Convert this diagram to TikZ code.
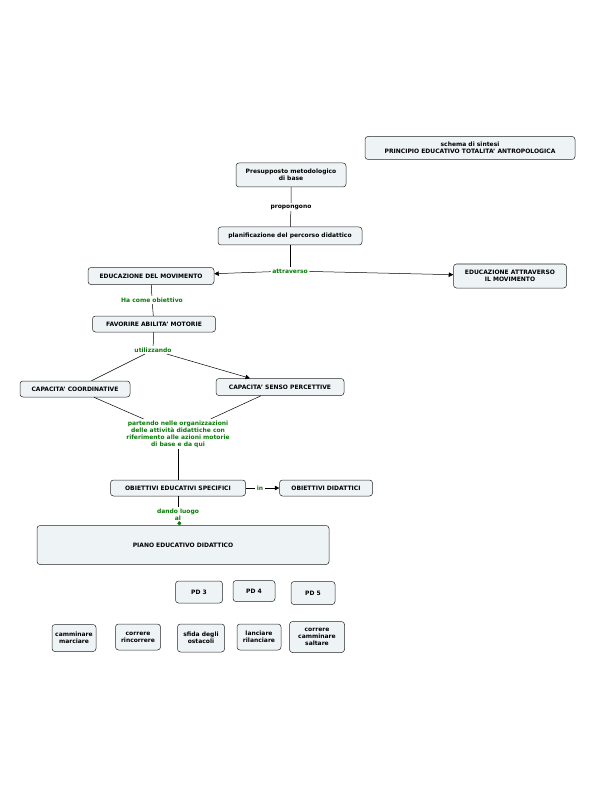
\documentclass[tikz,border=0pt]{standalone}
\usepackage{fontspec}
\setmainfont{DejaVu Sans}
\usetikzlibrary{arrows.meta}
\definecolor{boxfill}{HTML}{EEF3F5}
\definecolor{linkgreen}{HTML}{0A7A0A}
\begin{document}
\begin{tikzpicture}[x=1pt,y=-1pt,
    concept/.style={draw=black!85, fill=boxfill, rounded corners=3pt, line width=0.5pt,
      font=\fontsize{6}{7}\selectfont\bfseries, align=center,
      inner xsep=2pt, inner ysep=3pt, minimum height=17pt},
    linkword/.style={text=linkgreen, font=\fontsize{6}{7}\selectfont\bfseries,
      align=center, inner sep=1.5pt},
    link/.style={draw=black, line width=0.5pt},
    tip/.style={-{Triangle[length=4.5pt,width=4.5pt]}}]
  \useasboundingbox (0,0) rectangle (595,791);

  \node[concept, minimum width=210pt, minimum height=23pt] (sintesi) at (470,148){schema di sintesi\\PRINCIPIO EDUCATIVO TOTALITA' ANTROPOLOGICA};
  \node[concept, minimum width=110pt, minimum height=24pt] (presup) at (291,175){Presupposto metodologico\\di base};
  \node[linkword, text=black] (propon) at (291,207){propongono};
  \node[concept, minimum width=144pt, minimum height=18pt] (planif) at (290,236){planificazione del percorso didattico};
  \node[linkword] (attrav) at (290,271){attraverso};
  \node[concept, minimum width=126pt] (edumov) at (151,276){EDUCAZIONE DEL MOVIMENTO};
  \node[concept, minimum width=113pt, minimum height=24pt] (eduattr) at (510,276){EDUCAZIONE ATTRAVERSO\\IL MOVIMENTO};
  \node[linkword] (obiett) at (152,300){Ha come obiettivo};
  \node[concept, minimum width=123pt, minimum height=16pt] (favor) at (154,324){FAVORIRE ABILITA' MOTORIE};
  \node[linkword] (utiliz) at (153,350){utilizzando};
  \node[concept, minimum width=110pt, minimum height=16pt] (coord) at (75,389){CAPACITA' COORDINATIVE};
  \node[concept, minimum width=128pt] (senso) at (280,387){CAPACITA' SENSO PERCETTIVE};
  \node[linkword] (parten) at (178,434){partendo nelle organizzazioni\\delle attività didattiche con\\riferimento alle azioni motorie\\di base e da qui};
  \node[concept, minimum width=135pt, minimum height=16pt] (spec) at (178,488){OBIETTIVI EDUCATIVI SPECIFICI};
  \node[linkword] (in) at (260,488){in};
  \node[concept, minimum width=93pt, minimum height=16pt] (didat) at (326,488){OBIETTIVI DIDATTICI};
  \node[linkword] (dando) at (178,515){dando luogo\\al};
  \node[concept, minimum width=292pt, minimum height=39pt] (piano) at (183,545){PIANO EDUCATIVO DIDATTICO};

  \node[concept, minimum width=47pt, minimum height=22pt] (pdtre) at (199,592){PD 3};
  \node[concept, minimum width=42pt, minimum height=21pt] (pdquattro) at (254,591){PD 4};
  \node[concept, minimum width=44pt, minimum height=23pt] (pdcinque) at (313,593){PD 5};

  \node[concept, minimum width=44pt, minimum height=27pt] (cammin) at (74,638){camminare\\marciare};
  \node[concept, minimum width=45pt, minimum height=26pt] (correre) at (138,637){correre\\rincorrere};
  \node[concept, minimum width=47pt, minimum height=28pt] (sfida) at (201,638){sfida degli\\ostacoli};
  \node[concept, minimum width=44pt, minimum height=26pt] (lanci) at (259,637){lanciare\\rilanciare};
  \node[concept, minimum width=55pt, minimum height=31pt] (corsalto) at (317,637){correre\\camminare\\saltare};

  \draw[link] (presup) -- (propon) -- (planif);
  \draw[link] (planif) -- (attrav);
  \draw[link, tip] (attrav) -- (edumov);
  \draw[link, tip] (attrav) -- (eduattr);
  \draw[link] (edumov) -- (obiett) -- (favor);
  \draw[link] (favor) -- (utiliz);
  \draw[link] (utiliz) -- (coord);
  \draw[link, tip] (utiliz) -- (senso);
  \draw[link] (coord) -- (parten);
  \draw[link] (senso) -- (parten);
  \draw[link] (parten) -- (spec);
  \draw[link] (spec) -- (in);
  \draw[link, tip] (in) -- (didat);
  \draw[link] (spec) -- (dando);
  \draw[link, -{Circle[length=4pt,fill=linkgreen,color=linkgreen]}] (dando) -- (piano);
\end{tikzpicture}
\end{document}
